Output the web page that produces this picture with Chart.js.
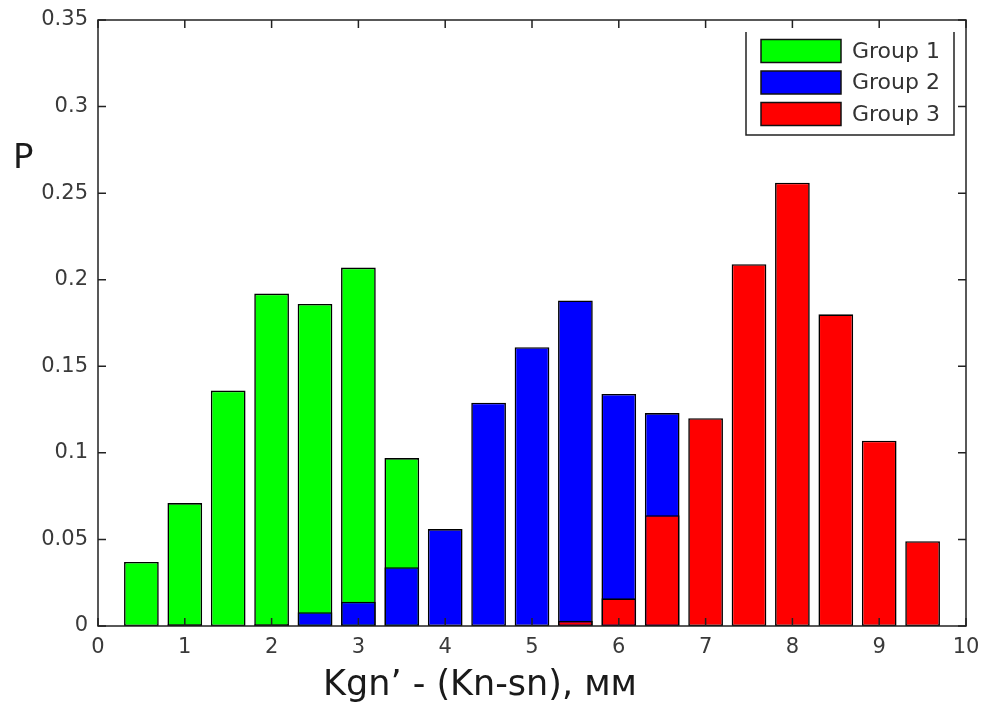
<!DOCTYPE html>
<html>
<head>
<meta charset="utf-8">
<script src="https://cdn.jsdelivr.net/npm/chart.js@4/dist/chart.umd.min.js"></script>
<style>
html,body{margin:0;padding:0;background:#fff;}
#wrap{width:984px;height:704px;}
</style>
</head>
<body>
<div id="wrap"><canvas id="c" width="984" height="704"></canvas></div>
<script>
const xPositions = [0.5, 1, 1.5, 2, 2.5, 3, 3.5, 4, 4.5, 5, 5.5, 6, 6.5, 7, 7.5, 8, 8.5, 9, 9.5];
const group1 = [0.037, 0.071, 0.136, 0.192, 0.186, 0.207, 0.097, null, null, null, null, null, null, null, null, null, null, null, null];
const group2 = [null, 0.001, null, 0.001, 0.008, 0.014, 0.034, 0.056, 0.129, 0.161, 0.188, 0.134, 0.123, null, null, null, null, null, null];
const group3 = [null, null, null, null, null, null, null, null, null, null, 0.003, 0.016, 0.064, 0.120, 0.209, 0.256, 0.180, 0.107, 0.049];
const seriesNames = ["Group 1", "Group 2", "Group 3"];
const seriesColors = ["#00ff00", "#0000ff", "#ff0000"];
const xTickValues = [0, 1, 2, 3, 4, 5, 6, 7, 8, 9, 10];
const yTickValues = [0, 0.05, 0.1, 0.15, 0.2, 0.25, 0.3, 0.35];
const xTitle = "Kgn\u2019 - (Kn-sn), мм";
const yTitle = "P";

const FONT = '"DejaVu Sans", Verdana, sans-serif';
const toPoints = arr => xPositions.map((x, i) => ({x: x, y: arr[i]})).filter(p => p.y !== null);
const allSeries = [group1, group2, group3];

const datasets = allSeries.map((s, i) => ({
  label: seriesNames[i],
  data: toPoints(s),
  backgroundColor: seriesColors[i],
  borderColor: '#000',
  borderWidth: 1.6,
  borderSkipped: false,
  grouped: false,
  categoryPercentage: 1.0,
  barPercentage: 0.8,
  order: 3 - i
}));

const framePlugin = {
  id: 'frame',
  afterDatasetsDraw(chart) {
    const ctx = chart.ctx;
    const a = chart.chartArea;
    const xs = chart.scales.x, ys = chart.scales.y;
    ctx.save();
    ctx.strokeStyle = '#222';
    ctx.lineWidth = 1.5;
    ctx.strokeRect(a.left, a.top, a.right - a.left, a.bottom - a.top);
    const tl = 8;
    ctx.beginPath();
    xTickValues.forEach(v => {
      const px = xs.getPixelForValue(v);
      ctx.moveTo(px, a.bottom); ctx.lineTo(px, a.bottom - tl);
      ctx.moveTo(px, a.top); ctx.lineTo(px, a.top + tl);
    });
    yTickValues.forEach(v => {
      const py = ys.getPixelForValue(v);
      ctx.moveTo(a.left, py); ctx.lineTo(a.left + tl, py);
      ctx.moveTo(a.right, py); ctx.lineTo(a.right - tl, py);
    });
    ctx.stroke();

    // legend (top edge of box not visible in the original)
    const lx = 746, ly = 32, lw = 208, lh = 103;
    ctx.fillStyle = '#fff';
    ctx.fillRect(lx, ly, lw, lh);
    ctx.strokeStyle = '#222';
    ctx.lineWidth = 1.5;
    ctx.beginPath();
    ctx.moveTo(lx, ly); ctx.lineTo(lx, ly + lh); ctx.lineTo(lx + lw, ly + lh); ctx.lineTo(lx + lw, ly);
    ctx.stroke();
    seriesNames.forEach((name, i) => {
      const cy = 51 + i * 31.5;
      ctx.fillStyle = seriesColors[i];
      ctx.fillRect(761, cy - 11.5, 80, 23);
      ctx.strokeStyle = '#111';
      ctx.lineWidth = 1.5;
      ctx.strokeRect(761, cy - 11.5, 80, 23);
      ctx.fillStyle = '#333';
      ctx.font = '22px ' + FONT;
      ctx.textAlign = 'left';
      ctx.textBaseline = 'middle';
      ctx.fillText(name, 852, cy + 1);
    });

    // axis titles
    ctx.fillStyle = '#1a1a1a';
    ctx.font = '35px ' + FONT;
    ctx.textAlign = 'center';
    ctx.textBaseline = 'alphabetic';
    ctx.fillText(xTitle, 480, 695);
    ctx.textAlign = 'left';
    ctx.font = '34px ' + FONT;
    ctx.fillText(yTitle, 13, 168);
    ctx.restore();
  }
};

new Chart(document.getElementById('c'), {
  type: 'bar',
  data: { datasets: datasets },
  options: {
    responsive: false,
    animation: false,
    layout: { padding: { left: 0, top: 20, right: 18, bottom: 0 } },
    plugins: { legend: { display: false }, tooltip: { enabled: false } },
    scales: {
      x: {
        type: 'linear',
        min: 0, max: 10,
        offset: false,
        grid: { display: false, offset: false, drawTicks: false },
        border: { display: false },
        afterBuildTicks: s => { s.ticks = xTickValues.map(v => ({value: v})); },
        afterFit: s => { s.height = 78; s.paddingLeft = 0; s.paddingRight = 0; },
        ticks: {
          autoSkip: false,
          maxRotation: 0,
          padding: 9,
          color: '#3a3a3a',
          font: { family: FONT, size: 21 },
          callback: v => String(v)
        }
      },
      y: {
        type: 'linear',
        min: 0, max: 0.35,
        grid: { display: false, drawTicks: false },
        border: { display: false },
        afterBuildTicks: s => { s.ticks = yTickValues.map(v => ({value: v})); },
        afterFit: s => { s.width = 98; s.paddingTop = 0; s.paddingBottom = 0; },
        ticks: {
          autoSkip: false,
          padding: 10,
          color: '#3a3a3a',
          font: { family: FONT, size: 21 },
          callback: v => String(Number(Number(v).toFixed(2)))
        }
      }
    }
  },
  plugins: [framePlugin]
});
</script>
</body>
</html>
